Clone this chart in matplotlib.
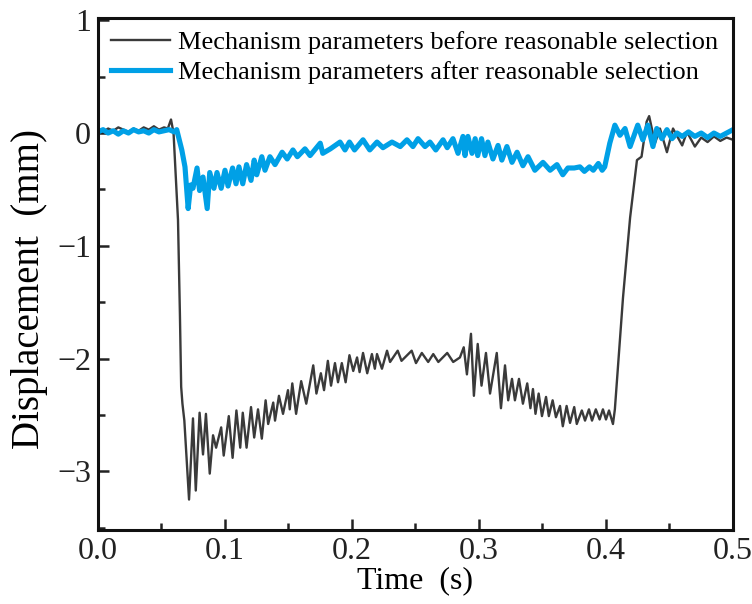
import matplotlib
matplotlib.use('Agg')
import matplotlib.pyplot as plt
from matplotlib.ticker import MultipleLocator

plt.rcParams.update({
    'font.family': ['Liberation Serif', 'DejaVu Serif'],
    'axes.unicode_minus': True,
})

# ── data ─────────────────────────────────────────────────────────────────────
before_t = [0.000, 0.004, 0.008, 0.012, 0.016, 0.020, 0.024, 0.028, 0.032, 0.036,
            0.040, 0.044, 0.048, 0.052, 0.055, 0.0575, 0.0595, 0.063, 0.0645, 0.0655,
            0.0665, 0.068, 0.0717, 0.0748, 0.077, 0.080, 0.0827, 0.085, 0.088, 0.0906,
            0.093, 0.097, 0.099, 0.103, 0.106, 0.109, 0.112, 0.114, 0.117, 0.1205,
            0.123, 0.126, 0.129, 0.132, 0.134, 0.138, 0.1394, 0.1425, 0.1457, 0.1496,
            0.151, 0.153, 0.156, 0.160, 0.164, 0.1695, 0.172, 0.1755, 0.178, 0.181,
            0.1835, 0.1866, 0.189, 0.192, 0.195, 0.198, 0.201, 0.204, 0.206, 0.2087,
            0.212, 0.2157, 0.218, 0.2197, 0.2236, 0.2276, 0.230, 0.236, 0.239, 0.247,
            0.2504, 0.255, 0.260, 0.264, 0.268, 0.275, 0.2797, 0.285, 0.288, 0.2905,
            0.2937, 0.296, 0.299, 0.302, 0.3055, 0.3087, 0.314, 0.3173, 0.3205, 0.323,
            0.326, 0.3283, 0.3315, 0.3346, 0.338, 0.3405, 0.3425, 0.3445, 0.347, 0.3496,
            0.3528, 0.355, 0.358, 0.3606, 0.3638, 0.366, 0.369, 0.3717, 0.375, 0.377,
            0.381, 0.3835, 0.3866, 0.389, 0.392, 0.395, 0.3976, 0.400, 0.4024, 0.4055,
            0.407, 0.4134, 0.419, 0.4244, 0.428, 0.432, 0.434, 0.4386, 0.4425, 0.448,
            0.4528, 0.460, 0.4638, 0.470, 0.475, 0.480, 0.485, 0.490, 0.495, 0.500]
before_v = [0.02, 0.01, 0.04, 0.02, 0.05, 0.03, 0.01, 0.04, 0.02, 0.05,
            0.03, 0.06, 0.03, 0.05, 0.04, 0.12, 0.00, -0.77, -1.60, -2.25,
            -2.40, -2.55, -3.25, -2.53, -3.17, -2.48, -2.85, -2.49, -3.02, -2.68,
            -2.79, -2.61, -2.86, -2.51, -2.88, -2.46, -2.79, -2.48, -2.79, -2.43,
            -2.70, -2.45, -2.71, -2.37, -2.58, -2.39, -2.55, -2.33, -2.49, -2.28,
            -2.45, -2.22, -2.49, -2.20, -2.40, -2.06, -2.31, -2.13, -2.28, -2.02,
            -2.24, -2.04, -2.21, -2.04, -2.21, -1.97, -2.11, -1.99, -2.12, -1.95,
            -2.13, -1.96, -2.09, -1.96, -2.09, -1.93, -2.03, -1.93, -2.02, -1.93,
            -2.04, -1.95, -2.03, -1.96, -2.03, -1.95, -2.03, -1.99, -1.90, -2.14,
            -1.78, -2.33, -1.87, -2.24, -1.95, -2.31, -1.95, -2.44, -2.06, -2.37,
            -2.18, -2.37, -2.18, -2.40, -2.22, -2.44, -2.27, -2.49, -2.31, -2.51,
            -2.34, -2.51, -2.37, -2.52, -2.42, -2.60, -2.42, -2.57, -2.43, -2.58,
            -2.46, -2.55, -2.45, -2.55, -2.45, -2.54, -2.45, -2.54, -2.46, -2.58,
            -2.45, -1.46, -0.75, -0.24, -0.21, 0.10, 0.15, -0.09, 0.04, -0.17,
            0.04, -0.11, 0.01, -0.12, -0.04, -0.08, -0.03, -0.07, -0.04, -0.06]

after_t = [0.000, 0.004, 0.008, 0.012, 0.016, 0.020, 0.024, 0.028, 0.032, 0.036,
           0.040, 0.044, 0.048, 0.052, 0.056, 0.060, 0.062, 0.066, 0.0685, 0.071,
           0.073, 0.0748, 0.078, 0.080, 0.0827, 0.086, 0.088, 0.0913, 0.0937, 0.097,
           0.100, 0.1024, 0.106, 0.1087, 0.111, 0.114, 0.117, 0.1205, 0.123, 0.125,
           0.129, 0.1315, 0.1354, 0.1394, 0.145, 0.149, 0.1535, 0.157, 0.163, 0.167,
           0.175, 0.177, 0.183, 0.1906, 0.1945, 0.198, 0.202, 0.2087, 0.214, 0.2197,
           0.2244, 0.2315, 0.238, 0.2433, 0.248, 0.252, 0.2575, 0.2614, 0.266, 0.2717,
           0.275, 0.2795, 0.2835, 0.2874, 0.289, 0.2913, 0.2945, 0.297, 0.299, 0.302,
           0.3047, 0.307, 0.311, 0.315, 0.318, 0.322, 0.326, 0.330, 0.3346, 0.3386,
           0.344, 0.3504, 0.356, 0.3614, 0.366, 0.370, 0.375, 0.3795, 0.383, 0.387,
           0.390, 0.394, 0.397, 0.399, 0.403, 0.407, 0.411, 0.415, 0.419, 0.425,
           0.429, 0.433, 0.437, 0.440, 0.444, 0.448, 0.452, 0.456, 0.460, 0.465,
           0.470, 0.475, 0.480, 0.485, 0.490, 0.495, 0.500]
after_v = [0.01, 0.03, 0.00, 0.02, -0.01, 0.02, 0.00, 0.03, 0.01, 0.02,
           0.00, 0.03, 0.01, 0.02, 0.03, 0.01, 0.03, -0.15, -0.30, -0.67,
           -0.46, -0.49, -0.31, -0.51, -0.39, -0.67, -0.35, -0.49, -0.35, -0.49,
           -0.33, -0.47, -0.31, -0.45, -0.30, -0.45, -0.28, -0.42, -0.24, -0.37,
           -0.21, -0.33, -0.21, -0.28, -0.17, -0.23, -0.15, -0.21, -0.14, -0.20,
           -0.09, -0.18, -0.14, -0.08, -0.15, -0.08, -0.15, -0.06, -0.15, -0.08,
           -0.13, -0.08, -0.12, -0.06, -0.12, -0.05, -0.12, -0.08, -0.15, -0.06,
           -0.13, -0.05, -0.18, -0.03, -0.20, -0.03, -0.18, -0.05, -0.20, -0.05,
           -0.20, -0.08, -0.23, -0.11, -0.24, -0.12, -0.26, -0.17, -0.29, -0.21,
           -0.33, -0.26, -0.33, -0.28, -0.37, -0.31, -0.31, -0.30, -0.34, -0.30,
           -0.33, -0.27, -0.33, -0.30, -0.09, 0.07, -0.02, 0.04, -0.12, 0.07,
           -0.06, 0.07, -0.12, 0.04, -0.05, 0.03, -0.05, 0.00, -0.03, 0.01,
           -0.03, 0.00, -0.04, 0.00, -0.03, 0.00, 0.03]

labels = ['Mechanism parameters before reasonable selection',
          'Mechanism parameters after reasonable selection']

# ── plot ─────────────────────────────────────────────────────────────────────
fig = plt.figure(figsize=(7.52, 6.04), dpi=100)
ax = fig.add_axes([0.1303, 0.1225, 0.8444, 0.8477])

ax.plot(before_t, before_v, color='#3a3a3a', linewidth=1.7, label=labels[0])
ax.plot(after_t, after_v, color='#00a0e6', linewidth=3.7, label=labels[1])

ax.set_xlim(0, 0.5)
ax.set_ylim(-3.52, 1.02)
ax.xaxis.set_major_locator(MultipleLocator(0.1))
ax.xaxis.set_minor_locator(MultipleLocator(0.05))
ax.yaxis.set_major_locator(MultipleLocator(1))
ax.yaxis.set_minor_locator(MultipleLocator(0.5))
ax.xaxis.set_major_formatter(plt.FuncFormatter(lambda v, p: f'{v:.1f}'))

ax.tick_params(which='both', direction='in', top=False, right=False,
               labelsize=23, width=1.8, colors='#222222')
ax.tick_params(which='major', length=8, pad=5)
ax.tick_params(which='minor', length=5)
for s in ax.spines.values():
    s.set_linewidth(2.2)
    s.set_color('#111111')

ax.set_xlabel('Time\u2002(s)', fontsize=23, labelpad=0)
ax.set_ylabel('Displacement\u2002(mm)', fontsize=28)
ax.yaxis.set_label_coords(-0.079, 0.47)

ax.legend(loc='upper left', bbox_to_anchor=(0.02, 0.975), frameon=False,
          fontsize=19, handlelength=2.25, handletextpad=0.3,
          labelspacing=0.25, borderpad=0, borderaxespad=0)

fig.savefig('out.png', dpi=100)
